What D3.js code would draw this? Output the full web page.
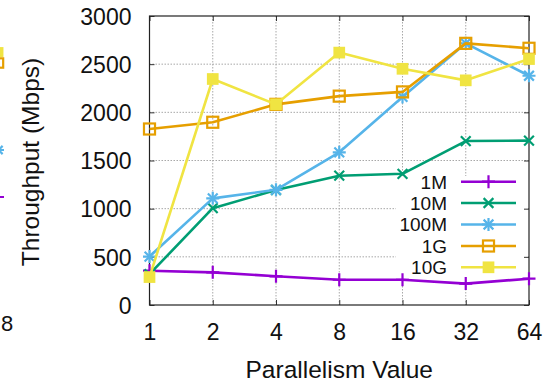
<!DOCTYPE html>
<html>
<head>
<meta charset="utf-8">
<script src="https://cdn.jsdelivr.net/npm/d3@7"></script>
<style>
  html, body { margin: 0; padding: 0; background: #fff; }
  svg { display: block; font-family: "Liberation Sans", Arial, Helvetica, sans-serif; }
</style>
</head>
<body>
<svg id="chart" width="549" height="383"></svg>
<script>
// Parallelism levels on the x axis
const parallelism = ["1", "2", "4", "8", "16", "32", "64"];

// Throughput (Mbps) per file size
const series1M   = [356, 339, 298, 262, 262, 222, 273];
const series10M  = [320, 1005, 1194, 1342, 1362, 1702, 1706];
const series100M = [503, 1107, 1196, 1585, 2160, 2716, 2380];
const series1G   = [1827, 1897, 2083, 2168, 2212, 2716, 2665];
const series10G  = [290, 2346, 2083, 2620, 2452, 2332, 2553];

const seriesNames = ["1M", "10M", "100M", "1G", "10G"];
const seriesColors = ["#9400d3", "#009e73", "#56b4e9", "#e69f00", "#f0e442"];
const seriesMarkers = ["plus", "cross", "star", "square", "filledSquare"];
const seriesValues = [series1M, series10M, series100M, series1G, series10G];

const yTicks = [0, 500, 1000, 1500, 2000, 2500, 3000];

// Right-hand end of the neighbouring panel, partly cut by the left edge
const neighbourSeries = ["10G", "1G", "100M", "1M"];
const neighbourLast = [2626, 2512, 1609, 1121];
const neighbourTickLabel = "8";

const svg = d3.select("#chart");
const W = 549, H = 383;
const plot = { left: 149.5, right: 529, top: 16, bottom: 305 };

const x = d3.scalePoint().domain(parallelism).range([plot.left, plot.right]).padding(0);
const y = d3.scaleLinear().domain([0, 3000]).range([plot.bottom, plot.top]);

function marker(g, type, color, size) {
  const s = size / 2;
  if (type === "plus" || type === "star") {
    g.append("path").attr("d", `M${-s},0H${s}M0,${-s}V${s}`)
      .attr("stroke", color).attr("stroke-width", 2.2).attr("fill", "none");
  }
  if (type === "cross" || type === "star") {
    const k = s * 0.75;
    g.append("path").attr("d", `M${-k},${-k}L${k},${k}M${-k},${k}L${k},${-k}`)
      .attr("stroke", color).attr("stroke-width", 2.2).attr("fill", "none");
  }
  if (type === "square") {
    g.append("rect").attr("x", -s * 0.85).attr("y", -s * 0.85)
      .attr("width", s * 1.7).attr("height", s * 1.7)
      .attr("stroke", color).attr("stroke-width", 2.2).attr("fill", "none");
  }
  if (type === "filledSquare") {
    g.append("rect").attr("x", -s * 0.9).attr("y", -s * 0.9)
      .attr("width", s * 1.8).attr("height", s * 1.8)
      .attr("fill", color);
  }
}

// Neighbouring panel fragment (clipped at the left edge)
svg.append("clipPath").attr("id", "leftClip")
  .append("rect").attr("x", 0).attr("y", 0).attr("width", 12).attr("height", H);
const neighbour = svg.append("g").attr("clip-path", "url(#leftClip)");
neighbourSeries.forEach((name, i) => {
  const idx = seriesNames.indexOf(name);
  const g = neighbour.append("g").attr("transform", `translate(-1.5,${y(neighbourLast[i])})`);
  marker(g, seriesMarkers[idx], seriesColors[idx], 11);
});
svg.append("text").attr("x", 1).attr("y", 331)
  .attr("text-anchor", "start").attr("font-size", 22).attr("fill", "#111")
  .text(neighbourTickLabel);

// Grid
const grid = svg.append("g");
grid.selectAll(".gy").data(yTicks.slice(1, -1)).join("line")
  .attr("x1", plot.left).attr("x2", plot.right)
  .attr("y1", d => y(d)).attr("y2", d => y(d))
  .attr("stroke", "#a8a8a8").attr("stroke-width", 1).attr("stroke-dasharray", "1.5,1.5");
grid.selectAll(".gx").data(parallelism.slice(1, -1)).join("line")
  .attr("x1", d => x(d)).attr("x2", d => x(d))
  .attr("y1", plot.top).attr("y2", plot.bottom)
  .attr("stroke", "#a8a8a8").attr("stroke-width", 1).attr("stroke-dasharray", "1.5,1.5");

// Legend background (opaque key)
const legendBox = { x: 396, y: 176, w: 132, h: 102 };
svg.append("rect").attr("x", legendBox.x).attr("y", legendBox.y)
  .attr("width", legendBox.w).attr("height", legendBox.h).attr("fill", "#fff");

// Axes via d3 axis generators (ticks inward)
const yAxis = svg.append("g").attr("transform", `translate(${plot.left},0)`)
  .call(d3.axisLeft(y).tickValues(yTicks).tickFormat(d3.format("d")).tickSize(-5).tickPadding(18));
yAxis.select(".domain").remove();
yAxis.selectAll("line").attr("stroke", "#333");
yAxis.selectAll("text").attr("font-size", 23).attr("fill", "#111")
  .attr("font-family", "Liberation Sans, Arial, sans-serif").attr("dy", "0.36em");

const yAxisRight = svg.append("g").attr("transform", `translate(${plot.right},0)`)
  .call(d3.axisRight(y).tickValues(yTicks).tickSize(-5).tickFormat(""));
yAxisRight.select(".domain").remove();
yAxisRight.selectAll("line").attr("stroke", "#333");

const xAxis = svg.append("g").attr("transform", `translate(0,${plot.bottom})`)
  .call(d3.axisBottom(x).tickSize(-5).tickPadding(19));
xAxis.select(".domain").remove();
xAxis.selectAll("line").attr("stroke", "#333");
xAxis.selectAll("text").attr("font-size", 23).attr("fill", "#111")
  .attr("font-family", "Liberation Sans, Arial, sans-serif").attr("dy", "0.71em");

const xAxisTop = svg.append("g").attr("transform", `translate(0,${plot.top})`)
  .call(d3.axisTop(x).tickSize(-5).tickFormat(""));
xAxisTop.select(".domain").remove();
xAxisTop.selectAll("line").attr("stroke", "#333");

// Frame
svg.append("rect").attr("x", plot.left).attr("y", plot.top)
  .attr("width", plot.right - plot.left).attr("height", plot.bottom - plot.top)
  .attr("fill", "none").attr("stroke", "#222").attr("stroke-width", 1.2);

// Axis titles
svg.append("text").attr("x", (plot.left + plot.right) / 2).attr("y", 378)
  .attr("text-anchor", "middle").attr("font-size", 24.5).attr("fill", "#111")
  .text("Parallelism Value");
svg.append("text")
  .attr("transform", "translate(39,162) rotate(-90)")
  .attr("text-anchor", "middle").attr("font-size", 24.5).attr("fill", "#111")
  .text("Throughput (Mbps)");

// Series lines and markers
const line = d3.line().x((d, i) => x(parallelism[i])).y(d => y(d));
seriesValues.forEach((vals, si) => {
  const g = svg.append("g");
  g.append("path").datum(vals).attr("d", line)
    .attr("fill", "none").attr("stroke", seriesColors[si]).attr("stroke-width", 2.6)
    .attr("stroke-linejoin", "round");
  vals.forEach((v, i) => {
    const m = g.append("g").attr("transform", `translate(${x(parallelism[i])},${y(v)})`);
    marker(m, seriesMarkers[si], seriesColors[si], 13);
  });
});

// Legend entries
const legendRowY = [181.7, 203, 224.5, 246, 267.3];
seriesNames.forEach((name, i) => {
  const ly = legendRowY[i];
  svg.append("text").attr("x", 447).attr("y", ly).attr("dy", "0.36em")
    .attr("text-anchor", "end").attr("font-size", 19).attr("fill", "#111").text(name);
  svg.append("line").attr("x1", 461).attr("x2", 516).attr("y1", ly).attr("y2", ly)
    .attr("stroke", seriesColors[i]).attr("stroke-width", 2.6);
  const m = svg.append("g").attr("transform", `translate(488.5,${ly})`);
  marker(m, seriesMarkers[i], seriesColors[i], 13);
});
</script>
</body>
</html>
